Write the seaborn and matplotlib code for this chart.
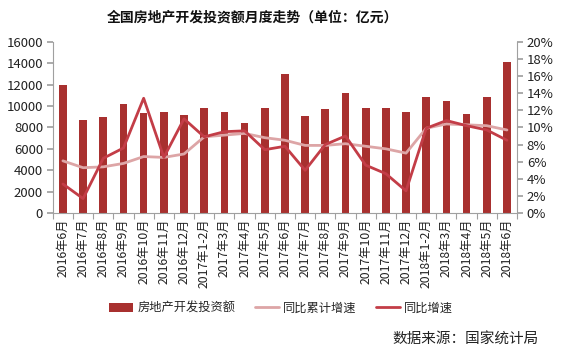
import numpy as np
import pandas as pd
import matplotlib
matplotlib.use("Agg")
import matplotlib.pyplot as plt
import seaborn as sns
from matplotlib.ticker import FuncFormatter

months = ["2016年6月", "2016年7月", "2016年8月", "2016年9月", "2016年10月", "2016年11月",
          "2016年12月", "2017年1-2月", "2017年3月", "2017年4月", "2017年5月", "2017年6月",
          "2017年7月", "2017年8月", "2017年9月", "2017年10月", "2017年11月", "2017年12月",
          "2018年1-2月", "2018年3月", "2018年4月", "2018年5月", "2018年6月"]
investment = [12000, 8700, 9000, 10200, 9300, 9400, 9200, 9800, 9400, 8400, 9800, 13000,
              9100, 9700, 11200, 9850, 9800, 9400, 10800, 10450, 9260, 10800, 14100]
cum_growth = [6.1, 5.3, 5.4, 5.8, 6.6, 6.5, 6.9, 8.9, 9.1, 9.3, 8.8, 8.5,
              7.9, 7.9, 8.1, 7.8, 7.5, 7.0, 9.9, 10.4, 10.3, 10.2, 9.7]
yoy_growth = [3.4, 1.7, 6.4, 7.6, 13.4, 6.5, 11.0, 8.9, 9.5, 9.6, 7.4, 7.8,
              5.0, 8.0, 9.0, 5.6, 4.6, 2.6, 9.9, 10.8, 10.2, 9.7, 8.5]

title = "全国房地产开发投资额月度走势（单位：亿元）"
legend_labels = ["房地产开发投资额", "同比累计增速", "同比增速"]
source = "数据来源：国家统计局"

bar_color = "#A8302F"
cum_color = "#DDA5A6"
yoy_color = "#C33D47"

sns.set_theme(style="white")
plt.rcParams['font.family'] = ['Noto Sans CJK SC', 'DejaVu Sans']
plt.rcParams['axes.unicode_minus'] = False

df = pd.DataFrame({"month": months, "investment": investment,
                   "cum": cum_growth, "yoy": yoy_growth})
df["pos"] = np.arange(len(df))

fig = plt.figure(figsize=(5.62, 3.5), dpi=100)
ax = fig.add_axes([0.094, 0.391, 0.826, 0.49])
sns.barplot(data=df, x="month", y="investment", color=bar_color, width=0.38,
            saturation=1, ax=ax, label=legend_labels[0], linewidth=0)
ax2 = ax.twinx()
sns.lineplot(data=df, x="pos", y="cum", color=cum_color, linewidth=2.0, ax=ax2,
             label=legend_labels[1])
sns.lineplot(data=df, x="pos", y="yoy", color=yoy_color, linewidth=2.0, ax=ax2,
             label=legend_labels[2])

n = len(df)
ax.set_xlim(-0.5, n - 0.5)
ax2.set_xlim(-0.5, n - 0.5)
ax.set_ylim(0, 16000)
ax.set_yticks(np.arange(0, 16001, 2000))
ax2.set_ylim(0, 20)
ax2.set_yticks(np.arange(0, 21, 2))
ax2.yaxis.set_major_formatter(FuncFormatter(lambda v, p: f"{int(v)}%"))

ax.set_xlabel("")
ax.set_ylabel("")
ax2.set_xlabel("")
ax2.set_ylabel("")

spine_c = "#A0A0A0"
for a in (ax, ax2):
    a.spines["top"].set_visible(False)
ax.spines["right"].set_visible(False)
ax2.spines["left"].set_visible(False)
ax2.spines["bottom"].set_visible(False)
ax.spines["left"].set_color(spine_c)
ax.spines["bottom"].set_color(spine_c)
ax2.spines["right"].set_color(spine_c)
for sp in (ax.spines["left"], ax.spines["bottom"], ax2.spines["right"]):
    sp.set_linewidth(0.8)

ax.tick_params(axis="y", which="both", left=True, length=4, color=spine_c,
               labelsize=9.5, labelcolor="#222222", pad=3)
ax2.tick_params(axis="y", which="both", right=True, length=4, color=spine_c,
                labelsize=9.5, labelcolor="#222222", pad=3)

ax.set_xticks(np.arange(n))
ax.set_xticklabels(months, rotation=90, fontsize=8.8, color="#222222")
ax.tick_params(axis="x", which="major", length=0, pad=4)
ax.set_xticks(np.arange(n + 1) - 0.5, minor=True)
ax.tick_params(axis="x", which="minor", bottom=True, length=4, color=spine_c, width=0.8)

if ax.legend_:
    ax.legend_.remove()
if ax2.legend_:
    ax2.legend_.remove()
h1, l1 = ax.get_legend_handles_labels()
h2, l2 = ax2.get_legend_handles_labels()
fig.legend(h1 + h2, l1 + l2, loc="center", bbox_to_anchor=(0.5, 0.12), ncol=3,
           frameon=False, fontsize=8.8, handlelength=2.0, handleheight=0.8,
           columnspacing=1.6, handletextpad=0.3)

fig.text(0.449, 0.95, title, ha="center", va="center", fontsize=10, fontweight="bold",
         color="#111111")
fig.text(0.958, 0.03, source, ha="right", va="center", fontsize=10.5, color="#222222")

fig.savefig("out.png", dpi=100, facecolor="white")
